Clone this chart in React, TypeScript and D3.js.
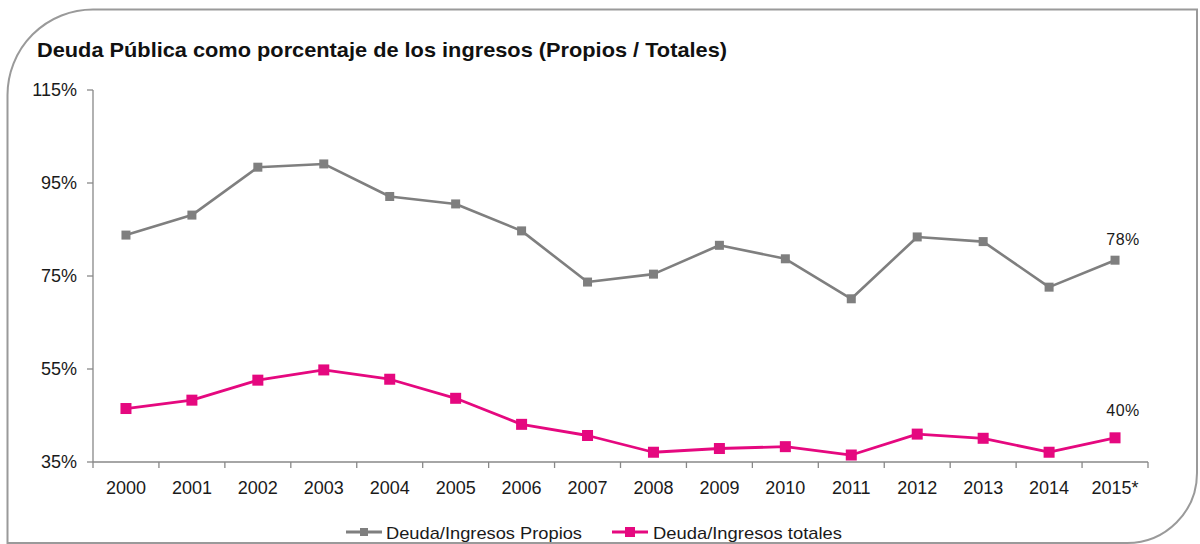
import React from "react";
import * as d3 from "d3";

const years = ["2000","2001","2002","2003","2004","2005","2006","2007","2008","2009","2010","2011","2012","2013","2014","2015*"];
const propios = [83.8, 88.1, 98.4, 99.1, 92.1, 90.5, 84.7, 73.7, 75.4, 81.6, 78.7, 70.1, 83.4, 82.4, 72.6, 78.4];
const totales = [46.5, 48.3, 52.6, 54.8, 52.8, 48.7, 43.1, 40.7, 37.1, 37.9, 38.3, 36.5, 41.0, 40.1, 37.1, 40.2];
const yTicks = [35, 55, 75, 95, 115];
const title = "Deuda Pública como porcentaje de los ingresos (Propios / Totales)";
const seriesNames = ["Deuda/Ingresos Propios", "Deuda/Ingresos totales"];
const lastLabels = ["78%", "40%"];

const W = 1200, H = 544;
const left = 93, right = 1148, top = 90, bottom = 462;
const GRAY = "#7f7f7f", PINK = "#e5087f";

export default function App() {
  const x = d3.scaleBand<string>().domain(years).range([left, right]).padding(0);
  const y = d3.scaleLinear().domain([35, 115]).range([bottom, top]);
  const cx = (i: number) => (x(years[i]) as number) + x.bandwidth() / 2;
  const line = d3.line<number>().x((_, i) => cx(i)).y((d) => y(d));

  const series = [
    { vals: propios, color: GRAY, size: 9, width: 2.6, labelDy: -15, name: seriesNames[0], label: lastLabels[0] },
    { vals: totales, color: PINK, size: 11, width: 2.8, labelDy: -22, name: seriesNames[1], label: lastLabels[1] },
  ];

  const boundaries = years.map((yr) => x(yr) as number).concat([right]);
  const font = "'Liberation Sans', Arial, sans-serif";

  const legendItems = [
    { x0: 346, textX: 386, textLen: 196 },
    { x0: 612, textX: 653, textLen: 189 },
  ];

  return (
    <svg width={W} height={H} style={{ position: "absolute", left: 0, top: 0, background: "#fff" }} fontFamily={font}>
      <rect width={W} height={H} fill="#fff" />
      <path
        d="M 7.5 560 L 7.5 95 A 85.5 85.5 0 0 1 93 9.5 L 1197 9.5 L 1197 473 A 70 70 0 0 1 1127 543 L 7.5 543"
        fill="none" stroke="#9a9a9a" strokeWidth={2}
      />
      <text x={37} y={57} fontSize={20.5} fontWeight="bold" fill="#111" textLength={690} lengthAdjust="spacingAndGlyphs">
        {title}
      </text>

      {/* Y axis */}
      <line x1={left} x2={left} y1={y(115)} y2={bottom} stroke="#888" strokeWidth={1.3} />
      {yTicks.map((t) => (
        <g key={t}>
          <line x1={left - 6} x2={left} y1={y(t)} y2={y(t)} stroke="#888" strokeWidth={1.3} />
          <text x={77} y={y(t) + 6} fontSize={18} textAnchor="end" fill="#1a1a1a">{t}%</text>
        </g>
      ))}

      {/* X axis */}
      <line x1={left} x2={right} y1={bottom} y2={bottom} stroke="#888" strokeWidth={1.3} />
      {boundaries.map((b, i) => (
        <line key={i} x1={b} x2={b} y1={bottom} y2={bottom + 6} stroke="#888" strokeWidth={1.3} />
      ))}
      {years.map((yr, i) => (
        <text key={yr} x={cx(i)} y={494} fontSize={18} textAnchor="middle" fill="#1a1a1a">{yr}</text>
      ))}

      {/* Series */}
      {series.map((s, si) => (
        <g key={si}>
          <path d={line(s.vals) as string} fill="none" stroke={s.color} strokeWidth={s.width} strokeLinejoin="round" />
          {s.vals.map((v, i) => (
            <rect key={i} x={cx(i) - s.size / 2} y={y(v) - s.size / 2} width={s.size} height={s.size} fill={s.color} />
          ))}
          <text x={cx(s.vals.length - 1) + 8} y={y(s.vals[s.vals.length - 1]) + s.labelDy} fontSize={16} textAnchor="middle" fill="#1a1a1a" letterSpacing={0.5}>
            {s.label}
          </text>
        </g>
      ))}

      {/* Legend */}
      {series.map((s, si) => {
        const L = legendItems[si];
        return (
          <g key={si}>
            <line x1={L.x0} x2={L.x0 + 36} y1={532} y2={532} stroke={s.color} strokeWidth={3} />
            <rect x={L.x0 + 18 - (s.size - 1) / 2} y={532 - (s.size - 1) / 2} width={s.size - 1} height={s.size - 1} fill={s.color} />
            <text x={L.textX} y={539} fontSize={17} fill="#1a1a1a" textLength={L.textLen} lengthAdjust="spacingAndGlyphs">{s.name}</text>
          </g>
        );
      })}
    </svg>
  );
}
